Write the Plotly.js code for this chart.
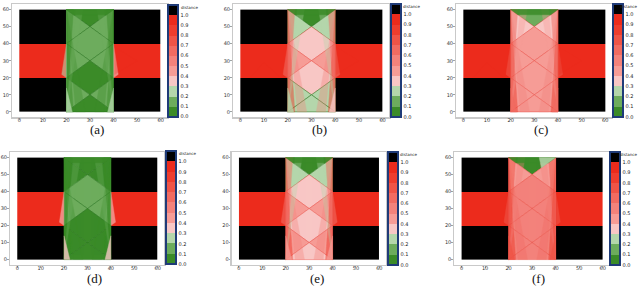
<!DOCTYPE html>
<html><head><meta charset="utf-8">
<script src="https://cdn.plot.ly/plotly-3.0.1.min.js"></script>
<style>html,body{margin:0;padding:0;background:#fff}#chart{width:640px;height:298px}</style>
</head><body><div id="chart"></div>
<script>
// ---------- DATA ----------
const binColors = ['#3b8b28','#6dac5d','#b4d6ab','#f8c7c5','#f69c96','#f3827b','#f16b61','#ef5447','#ee3d2e','#ec2b1c'];
const obstacleColor = '#000000';
const colorbarTicks = [0,0.1,0.2,0.3,0.4,0.5,0.6,0.7,0.8,0.9,1.0];
const colorbarTickText = ['0.0','0.1','0.2','0.3','0.4','0.5','0.6','0.7','0.8','0.9','1.0'];
const colorbarTitle = 'distance';
const panelLabels = ['(a)','(b)','(c)','(d)','(e)','(f)'];
const axisTicks = [0,10,20,30,40,50,60];

// background field: cell edges and values (obstacles > 1, corridor ~1)
const gridX = [0,20,40,60];
const gridY = [0,20,40,60];
const fieldZ = [[1.1,null,1.1],[0.98,null,0.98],[1.1,null,1.1]];

// mesh cells of the central column
const cellX = [[20,40,30],[20,30,20],[40,30,40],[30,20,30,40],[20,30,20],[40,30,40],[30,20,30,40],[20,30,20],[40,30,40],[20,40,30]];
const cellY = [[60,60,50],[60,50,40],[60,50,40],[50,40,30,40],[40,30,20],[40,30,20],[30,20,10,20],[20,10,0],[20,10,0],[0,0,10]];
const cellValues = [
  [0.02,0.10,0.10,0.15,0.10,0.10,0.06,0.10,0.10,0.03],
  [0.05,0.22,0.22,0.35,0.42,0.42,0.35,0.28,0.28,0.22],
  [0.15,0.35,0.38,0.45,0.48,0.48,0.42,0.45,0.45,0.42],
  [0.02,0.06,0.06,0.14,0.10,0.10,0.06,0.06,0.06,0.03],
  [0.05,0.25,0.25,0.38,0.42,0.42,0.38,0.42,0.42,0.38],
  [0.08,0.48,0.48,0.52,0.55,0.55,0.52,0.55,0.55,0.52]
];

// overlapping (translucent) mesh elements
const overlayX = [[20,20,23],[40,40,37],[20,20,23],[40,40,37],[20,28,24],[40,32,36],[20,27,24],[40,33,36],
  [20,20,22.5],[40,40,37.5],[20,40,37,23],[33,40,34],[20,18,20],[40,42,40],[40.5,50,40.5],[4,10,17]];
const overlayY = [[60,0,0],[60,0,0],[0,60,60],[0,60,60],[60,0,0],[60,0,0],[0,60,60],[0,60,60],
  [0,14,0],[0,14,0],[60,60,57,57],[60,60,54],[40,22,20],[40,22,20],[38,30,22],[20,29,20]];
const overlayValues = [
  [0.05,0.05,0.05,0.05,0.05,0.05,0.15,0.15,0.25,0.25,0.02,null,0.25,0.35,0.9,null],
  [0.8,0.8,0.6,0.6,0.5,0.5,0.25,0.25,0.25,0.3,0.02,null,0.6,0.6,0.9,0.9],
  [0.8,0.8,0.6,0.6,0.5,0.5,0.45,0.45,0.6,0.6,0.02,null,0.7,0.7,0.9,0.9],
  [0.05,0.05,0.05,0.05,0.05,0.05,0.15,0.15,0.35,0.35,0.02,null,0.3,0.35,null,null],
  [0.8,0.8,0.6,0.6,0.5,0.5,0.25,0.25,0.4,0.4,0.02,null,0.6,0.6,null,null],
  [0.85,0.85,0.7,0.7,0.6,0.6,0.55,0.55,0.7,0.7,0.02,0.25,0.7,0.7,null,null]
];

// ---------- STYLE / LAYOUT ----------
const overlayOpacity = [0.5,0.5,0.5,0.5,0.35,0.35,0.35,0.35,0.8,0.8,0.85,0.85,0.6,0.6,0.25,0.25];
const frames = [[12,167,4,117],[233,389,4,117],[456,611.7,4,117],[10,164,152,264.7],[231.7,385.7,152,264.7],[454.3,609,152,264.7]];
const cbars = [[168,4.7,116.7],[390.7,4,117],[612.7,4,117],[166,151.3,264.7],[387.7,152,265],[610.3,152,265]];
const labelPos = [[96.7,130],[319,130],[540.8,130],[94.7,278],[317,278],[538.7,278]];
const W = 640, H = 298;
const px = x => x / W, py = y => 1 - y / H;

function valueColor(v){ return binColors[Math.max(0, Math.min(9, Math.floor(v * 10 + 1e-9)))]; }
const colorscale = [];
binColors.forEach((c,i)=>{ colorscale.push([i*0.1/1.1, c]); colorscale.push([(i+1)*0.1/1.1, c]); });
colorscale.push([1.0/1.1, obstacleColor]); colorscale.push([1, obstacleColor]);

const data = [];
const layout = {width:W, height:H, margin:{l:0,r:0,t:0,b:0}, showlegend:false,
  paper_bgcolor:'#fff', plot_bgcolor:'#fff', font:{family:'DejaVu Sans', size:5, color:'#333'}, annotations:[]};

for (let p = 0; p < 6; p++) {
  const s = p === 0 ? '' : String(p + 1);
  const xa = 'x' + s, ya = 'y' + s;
  const f = frames[p];
  const axCommon = {showgrid:false, zeroline:false, showline:true, mirror:true, linecolor:'#c9c9c9', linewidth:1.5,
    ticks:'outside', ticklen:1.5, tickwidth:0.6, tickcolor:'#666', tickvals:axisTicks, tickfont:{size:5, color:'#333'},
    fixedrange:true};
  layout['xaxis' + s] = Object.assign({}, axCommon, {domain:[px(f[0]), px(f[1])], range:[-3.1,62.7], anchor:ya, ticklabelstandoff:-4});
  layout['yaxis' + s] = Object.assign({}, axCommon, {domain:[py(f[3]), py(f[2])], range:[-3,63.3], anchor:xa, ticklabelstandoff:-1});

  const cb = cbars[p];
  data.push({type:'heatmap', x:gridX, y:gridY, z:fieldZ, xaxis:xa, yaxis:ya, zmin:0, zmax:1.1,
    colorscale:colorscale, showscale:true, hoverinfo:'skip',
    colorbar:{x:px(cb[0]), xanchor:'left', xpad:0, ypad:0, y:py(cb[1]), yanchor:'top', lenmode:'pixels', len:cb[2]-cb[1],
      thickness:10, outlinecolor:'#1f3b78', outlinewidth:2, ticks:'', tickvals:colorbarTicks, ticktext:colorbarTickText,
      tickfont:{size:5, color:'#222'}}});

  cellValues[p].forEach((v,i)=>{
    const c = valueColor(v);
    data.push({type:'scatter', mode:'lines', x:cellX[i].concat([cellX[i][0]]), y:cellY[i].concat([cellY[i][0]]),
      xaxis:xa, yaxis:ya, fill:'toself', fillcolor:c, hoverinfo:'skip',
      line:{color: v < 0.3 ? 'rgba(40,115,28,0.9)' : 'rgba(232,70,60,0.75)', width:0.6}});
  });
  overlayValues[p].forEach((v,i)=>{
    if (v === null) return;
    const c = valueColor(v);
    data.push({type:'scatter', mode:'lines', x:overlayX[i].concat([overlayX[i][0]]), y:overlayY[i].concat([overlayY[i][0]]),
      xaxis:xa, yaxis:ya, fill:'toself', fillcolor:c, opacity:overlayOpacity[i], hoverinfo:'skip',
      line:{color:c, width:0.4}});
  });

  const nearEdge = cb[0] + 11.5 + 18 > 638;
  layout.annotations.push({xref:'paper', yref:'paper', x: nearEdge ? px(638) : px(cb[0]+11.5), y:py(cb[1]+2.5),
    xanchor: nearEdge ? 'right' : 'left', yanchor:'middle', borderpad:0,
    text:colorbarTitle, showarrow:false, font:{size:4, color:'#222'}});
  layout.annotations.push({xref:'paper', yref:'paper', x:px(labelPos[p][0]), y:py(labelPos[p][1]), xanchor:'center', yanchor:'middle',
    text:panelLabels[p], showarrow:false, font:{family:'Liberation Serif', size:13, color:'#111'}});
}

Plotly.newPlot('chart', data, layout, {staticPlot:true, displayModeBar:false});
</script></body></html>
